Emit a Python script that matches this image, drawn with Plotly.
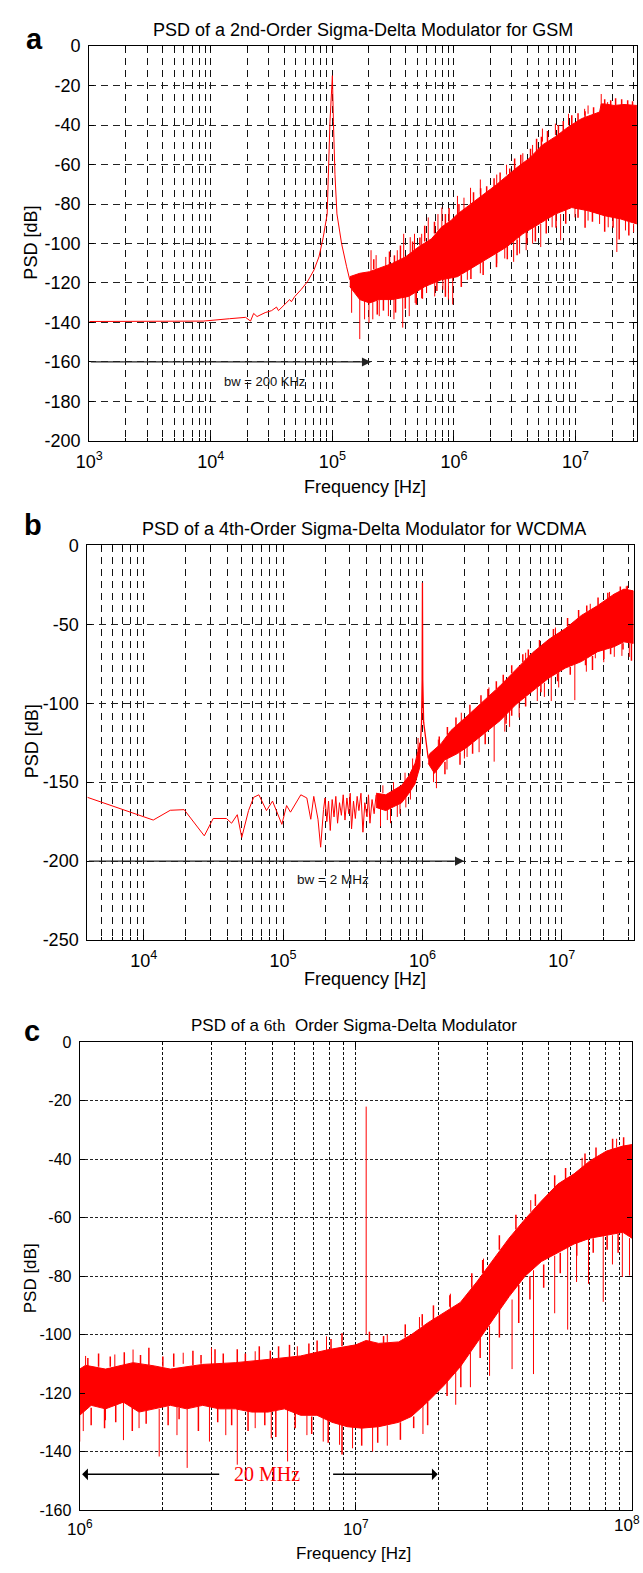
import numpy as np
import plotly.graph_objects as go

W, H = 643, 1573

# ================= Panel a : 2nd-order SDM for GSM =================
a_line_f = [1.0e3, 8.65e3, 1.42e4, 1.93e4, 2.12e4, 2.25e4, 2.4e4, 2.8e4, 3.16e4, 3.47e4, 3.6e4,
            4.05e4, 4.45e4, 4.6e4, 4.88e4, 5.52e4, 6.24e4, 7.06e4, 7.75e4, 8.4e4, 9.06e4, 9.55e4,
            1.0e5, 1.02e5, 1.05e5, 1.09e5, 1.19e5, 1.31e5, 1.39e5]
a_line_db = [-139.5, -139.3, -138.1, -137.4, -139.3, -135.4, -137.0, -135.0, -134.0, -132.2, -134.0,
             -130.9, -128.4, -129.5, -127.0, -123.4, -119.3, -113.4, -106.8, -97.0, -85.1, -38.4,
             -15.0, -38.4, -65.0, -85.0, -100.0, -111.8, -118.4]

a_hi_f = [1.39e5, 1.68e5, 2.02e5, 2.43e5, 3.11e5, 3.99e5, 5.1e5, 6.54e5, 7.87e5, 9.46e5, 1.07e6,
          1.37e6, 1.76e6, 2.25e6, 2.71e6, 3.26e6, 4.18e6, 5.35e6, 6.84e6, 8.77e6, 1.12e7, 1.44e7,
          1.58e7, 1.63e7, 1.73e7, 2.08e7, 2.51e7, 3.2e7]
a_hi_db = [-116.8, -115.1, -114.3, -112.6, -110.1, -106.8, -101.8, -97.6, -91.8, -88.4, -85.1,
           -80.1, -75.1, -70.1, -65.9, -61.8, -56.8, -50.1, -45.9, -40.9, -36.8, -34.3,
           -33.4, -29.3, -29.3, -30.1, -29.6, -30.1]
a_lo_f = [1.39e5, 1.68e5, 2.02e5, 2.43e5, 3.11e5, 4.24e5, 5.78e5, 7.87e5, 1.07e6, 1.46e6, 1.99e6,
          2.71e6, 3.69e6, 5.02e6, 6.84e6, 9.32e6, 1.27e7, 1.73e7, 2.36e7, 3.2e7]
a_lo_db = [-121.8, -128.4, -130.1, -128.4, -128.4, -126.8, -121.8, -118.4, -116.8, -111.8, -106.8,
           -101.8, -95.1, -90.1, -85.1, -81.8, -83.4, -85.9, -87.6, -90.1]

# spikes: frequency, band edge, spike tip
a_spk_f = [1.44e5, 1.68e5, 1.84e5, 2.0e5, 2.15e5, 2.43e5, 2.89e5, 3.21e5, 3.79e5, 4.29e5, 4.8e5,
           5.43e5, 5.96e5, 6.95e5, 8.11e5, 9.01e5, 9.77e5, 1.29e6, 1.65e6, 2.25e6, 2.62e6, 3.1e6,
           3.47e6, 3.93e6, 4.44e6, 5.18e6, 6.43e6, 7.55e6, 9.91e6, 1.27e7, 1.58e7, 1.86e7, 2.19e7,
           2.58e7, 3.01e7,
           2.08e5, 2.29e5, 2.75e5, 3.42e5, 3.86e5, 4.37e5, 4.74e5, 5.43e5, 6.15e5, 7.39e5, 7.96e5,
           1.07e6, 1.21e6, 1.37e6, 1.65e6, 2.25e6, 2.71e6, 3.69e6, 4.44e6, 5.35e6, 6.84e6, 8.77e6,
           1.19e7, 1.27e7, 1.63e7, 1.84e7]
a_spk_from = [-118.4, -121.8, -121.8, -121.8, -121.8, -121.8, -125.1, -123.4, -123.4, -121.8, -121.8,
              -118.4, -118.4, -115.1, -115.1, -115.1, -113.4, -111.8, -106.8, -101.8, -100.1, -96.8,
              -95.1, -93.4, -91.8, -90.1, -85.1, -85.1, -81.8, -83.4, -85.1, -85.9, -86.8,
              -88.4, -90.1,
              -115.1, -115.1, -113.4, -113.4, -108.4, -105.1, -103.4, -101.8, -98.4, -93.4, -91.8,
              -85.1, -83.4, -80.1, -75.1, -70.1, -65.1, -60.1, -55.1, -48.4, -45.1, -40.1,
              -35.1, -34.3, -31.8, -31.8]
a_spk_to = [-135.1, -148.4, -138.4, -140.1, -138.4, -136.8, -136.8, -138.4, -142.6, -136.8, -130.1,
            -127.6, -125.1, -126.8, -123.4, -128.4, -130.9, -118.4, -115.1, -110.1, -107.6, -109.3,
            -105.1, -103.4, -100.1, -101.8, -91.8, -98.4, -86.8, -88.4, -90.1, -91.8, -104.3,
            -93.4, -94.3,
            -103.4, -105.9, -106.8, -103.4, -95.1, -96.8, -95.1, -95.1, -86.8, -85.1, -81.8,
            -75.9, -76.8, -71.8, -67.6, -65.1, -60.1, -54.3, -50.1, -41.8, -39.3, -34.3,
            -31.8, -30.1, -24.3, -28.4]
# shorter edge spikes (jagged band edges)
a_edge_f = [2.19e5, 2.95e5, 3.24e5, 3.63e5, 4.57e5, 5.25e5, 5.75e5, 6.92e5, 8.51e5, 9.12e5, 1.1e6,
            1.45e6, 1.66e6, 1.86e6, 2.14e6, 2.4e6, 2.88e6, 3.16e6, 3.55e6, 4.27e6, 4.79e6, 5.25e6,
            5.89e6, 7.24e6, 7.94e6, 9.33e6, 1.05e7, 1.2e7, 1.41e7, 1.74e7, 1.95e7, 2.14e7, 2.4e7,
            2.69e7, 2.95e7,
            2.34e5, 2.63e5, 3.31e5, 3.98e5, 4.9e5, 5.5e5, 7.24e5, 8.51e5, 1.15e6, 1.38e6, 1.74e6,
            2.24e6, 2.75e6, 3.31e6, 3.98e6, 4.68e6, 5.75e6, 6.92e6, 8.32e6, 1.05e7, 1.2e7, 1.38e7,
            1.74e7, 2.04e7, 2.29e7, 2.75e7]
a_edge_from = [-113.0, -111.0, -110.0, -108.0, -104.0, -101.0, -99.0, -95.0, -91.0, -89.0, -86.0,
               -81.0, -78.0, -76.0, -73.0, -71.0, -67.0, -64.0, -61.0, -57.0, -54.0, -52.0,
               -49.0, -45.0, -44.0, -40.0, -39.0, -36.0, -34.5, -30.0, -30.0, -30.0, -30.0,
               -30.0, -30.0,
               -129.0, -128.0, -128.0, -127.0, -124.0, -122.0, -118.0, -118.0, -116.0, -112.0, -109.0,
               -105.0, -101.0, -98.0, -94.0, -91.0, -87.0, -85.0, -82.5, -82.0, -83.0, -84.0,
               -85.5, -86.5, -87.0, -89.0]
a_edge_to = [-108.0, -104.0, -106.0, -101.0, -99.0, -97.0, -91.0, -89.0, -85.0, -82.0, -80.0,
             -74.0, -72.0, -71.0, -67.0, -64.0, -62.0, -57.0, -55.0, -52.0, -47.0, -46.0,
             -43.0, -40.0, -38.0, -35.0, -34.0, -33.0, -31.0, -27.0, -27.5, -26.5, -27.0,
             -27.5, -28.0,
             -136.0, -134.0, -135.0, -133.0, -131.0, -128.0, -124.0, -127.0, -122.0, -118.0, -116.0,
             -112.0, -108.0, -106.0, -100.0, -99.0, -95.0, -92.0, -90.0, -87.0, -92.0, -89.0,
             -94.0, -92.0, -98.0, -96.0]

a_bw_tail_f, a_bw_tip_f, a_bw_db = 1.0e3, 2.08e5, -160.0
a_bw_text = "bw = 200 KHz"
a_bw_text_f, a_bw_text_db = 2.76e4, -169.8
a_yticks = list(range(-200, 1, 20))
a_xticks = [1e3, 1e4, 1e5, 1e6, 1e7]

# ================= Panel b : 4th-order SDM for WCDMA =================
b_line_f = [3.94e3, 1.17e4, 1.55e4, 1.95e4, 2.72e4, 3.15e4, 3.92e4, 4.27e4, 4.69e4, 5.05e4, 5.65e4,
            6.15e4, 6.7e4, 7.6e4, 8.4e4, 8.98e4, 9.8e4, 1.06e5, 1.13e5, 1.34e5, 1.48e5, 1.58e5,
            1.66e5, 1.78e5, 1.86e5, 1.95e5, 2.0e5, 2.06e5, 2.12e5, 2.18e5, 2.25e5, 2.32e5, 2.39e5,
            2.46e5, 2.54e5, 2.62e5, 2.7e5, 2.78e5, 2.87e5, 2.96e5, 3.03e5, 3.1e5, 3.2e5, 3.3e5,
            3.4e5, 3.5e5, 3.62e5, 3.74e5, 3.86e5, 4.0e5, 4.1e5, 4.2e5, 4.35e5, 4.5e5, 4.65e5]
b_line_db = [-159.6, -174.0, -167.8, -167.4, -184.0, -173.0, -173.0, -176.0, -170.6, -185.0, -168.0,
             -159.6, -158.0, -168.0, -162.0, -168.6, -176.7, -164.8, -169.0, -158.0, -160.0, -173.5,
             -159.0, -173.5, -191.2, -167.4, -160.0, -175.0, -162.0, -180.6, -161.0, -172.0, -159.0,
             -176.0, -163.0, -171.0, -158.0, -174.0, -160.0, -170.0, -157.0, -179.6, -162.0, -173.0,
             -159.0, -168.0, -157.0, -181.7, -163.0, -172.0, -158.0, -176.0, -161.0, -170.0, -158.0]

b_hi1_f = [4.65e5, 5.46e5, 7.1e5, 8.0e5, 8.85e5, 9.6e5]
b_hi1_db = [-157.0, -158.0, -152.0, -146.0, -138.0, -125.0]
b_lo1_f = [4.65e5, 5.46e5, 7.1e5, 8.0e5, 8.85e5, 9.6e5]
b_lo1_db = [-166.0, -168.0, -163.0, -157.0, -151.0, -140.0]

b_pk_f = [9.6e5, 9.85e5, 9.95e5, 1.0e6, 1.005e6, 1.02e6, 1.05e6, 1.1e6]
b_pk_db = [-132.0, -112.0, -85.0, -23.6, -85.0, -112.0, -122.0, -135.0]

b_hi2_f = [1.1e6, 1.13e6, 1.36e6, 1.6e6, 2.1e6, 2.75e6, 3.6e6, 4.71e6, 6.17e6, 8.08e6, 1.06e7,
           1.38e7, 1.81e7, 2.37e7, 2.79e7, 3.27e7]
b_hi2_db = [-134.0, -131.9, -125.6, -117.3, -108.0, -98.6, -89.0, -78.5, -68.0, -59.5, -52.7,
            -44.4, -38.1, -30.9, -27.7, -28.8]
b_lo2_f = [1.1e6, 1.22e6, 1.44e6, 1.78e6, 2.1e6, 2.75e6, 3.6e6, 4.71e6, 6.17e6, 8.08e6, 1.06e7,
           1.38e7, 1.81e7, 2.37e7, 2.79e7, 3.27e7]
b_lo2_db = [-138.1, -144.4, -136.0, -131.9, -127.7, -119.4, -111.1, -100.6, -92.3, -84.0, -77.7,
            -73.6, -67.3, -64.2, -61.1, -62.1]

b_spk_f = [5.0e5, 5.9e5, 6.6e5, 7.6e5, 1.2e6, 1.26e6, 1.5e6, 2.0e6, 2.09e6, 2.55e6, 3.27e6,
           3.9e6, 4.22e6, 4.94e6, 6.67e6, 7.5e6, 8.4e6, 9.5e6, 1.24e7, 1.5e7, 1.74e7, 2.0e7,
           2.38e7, 2.7e7, 3.05e7,
           1.3e6, 1.9e6, 3.0e6, 5.5e6, 9.0e6, 1.6e7, 2.2e7, 2.9e7,
           5.2e5, 6.2e5, 7.5e5, 8.5e5, 9.3e5, 5.6e5, 6.9e5, 8.2e5]
b_spk_from = [-166.0, -166.0, -163.0, -159.0, -140.0, -141.0, -134.0, -128.0, -127.0, -121.0, -113.0,
              -108.0, -104.0, -99.0, -90.0, -87.0, -83.0, -80.0, -75.0, -72.0, -68.0, -66.0,
              -64.0, -62.0, -62.0,
              -128.0, -112.0, -95.0, -73.0, -56.0, -41.0, -33.0, -28.0,
              -157.0, -155.0, -150.0, -142.0, -130.0, -167.0, -163.0, -155.0]
b_spk_to = [-178.0, -176.0, -172.0, -166.0, -150.0, -153.8, -142.0, -135.0, -134.0, -131.0, -137.0,
            -118.0, -115.0, -109.0, -98.6, -96.0, -98.6, -90.0, -98.0, -80.0, -71.5, -74.0,
            -70.6, -70.0, -70.6,
            -123.0, -106.0, -90.0, -68.0, -52.0, -37.0, -29.5, -26.0,
            -152.0, -150.0, -144.0, -135.0, -122.0, -174.0, -170.0, -161.0]
b_edge_f = [1.32e6, 1.51e6, 1.74e6, 2.19e6, 2.63e6, 2.95e6, 3.39e6, 3.8e6, 4.37e6, 5.25e6, 5.75e6,
            6.92e6, 8.71e6, 1.1e7, 1.32e7, 1.51e7, 1.82e7, 2.14e7, 2.63e7, 2.95e7,
            1.45e6, 1.86e6, 2.29e6, 2.82e6, 3.98e6, 4.37e6, 5.5e6, 7.08e6, 9.33e6, 1.15e7, 1.48e7,
            1.66e7, 2.0e7, 2.24e7, 2.75e7, 3.16e7]
b_edge_from = [-127.0, -120.0, -115.0, -107.0, -100.0, -96.0, -91.0, -87.0, -81.0, -74.0, -71.0,
               -64.5, -58.0, -51.0, -46.0, -42.0, -38.0, -34.0, -29.5, -28.5,
               -137.0, -131.0, -125.0, -119.0, -106.0, -103.0, -96.0, -88.0, -81.0, -77.0, -72.0,
               -70.0, -66.3, -65.0, -62.0, -62.0]
b_edge_to = [-121.0, -115.0, -109.0, -101.0, -95.0, -91.0, -86.0, -82.0, -76.0, -69.0, -66.0,
             -60.0, -53.0, -46.0, -41.0, -38.0, -33.0, -30.0, -26.0, -25.5,
             -145.0, -139.0, -132.0, -126.0, -113.0, -108.0, -102.0, -93.0, -86.0, -82.0, -76.0,
             -79.0, -72.0, -69.0, -66.0, -73.0]

b_bw_tail_f, b_bw_tip_f, b_bw_db = 3.94e3, 1.99e6, -200.0
b_bw_text = "bw = 2 MHz"
b_bw_text_f, b_bw_text_db = 2.27e5, -211.5
b_yticks = list(range(-250, 1, 50))
b_xticks = [1e4, 1e5, 1e6, 1e7]

# ================= Panel c : 6th-order SDM =================
c_hi_f = [1.0e6, 1.05e6, 1.24e6, 1.56e6, 1.86e6, 2.13e6, 2.79e6, 3.66e6, 4.81e6, 6.31e6, 8.0e6,
          9.23e6, 1.0e7, 1.09e7, 1.21e7, 1.43e7, 1.59e7, 1.82e7, 2.08e7, 2.39e7, 2.74e7, 3.13e7,
          3.59e7, 4.1e7, 4.7e7, 5.39e7, 6.17e7, 7.06e7, 8.09e7, 9.27e7, 1.0e8]
c_hi_db = [-111.8, -110.5, -111.8, -109.6, -110.7, -111.8, -110.2, -109.6, -108.5, -107.3, -105.1,
           -104.0, -103.5, -102.0, -103.0, -102.5, -100.0, -96.0, -92.5, -89.0, -82.0, -74.5,
           -67.0, -60.5, -54.3, -48.5, -45.0, -40.5, -37.2, -35.5, -35.0]
c_lo_f = [1.0e6, 1.1e6, 1.24e6, 1.44e6, 1.64e6, 1.86e6, 2.13e6, 2.44e6, 2.79e6, 3.2e6, 3.66e6,
          4.2e6, 4.81e6, 5.51e6, 6.31e6, 7.23e6, 8.2e6, 9.3e6, 1.05e7, 1.21e7, 1.43e7, 1.59e7,
          1.82e7, 2.08e7, 2.39e7, 2.74e7, 3.13e7, 3.59e7, 4.1e7, 4.7e7, 5.39e7, 6.17e7, 7.06e7,
          8.09e7, 9.27e7, 1.0e8]
c_lo_db = [-127.6, -124.2, -125.4, -123.1, -126.5, -125.4, -124.2, -125.4, -124.2, -125.4, -125.4,
           -126.5, -126.5, -125.4, -127.6, -127.6, -130.0, -131.5, -132.0, -131.5, -130.0, -128.0,
           -123.0, -117.5, -111.0, -103.0, -95.0, -87.0, -80.0, -75.0, -72.0, -69.0, -67.0,
           -66.0, -65.0, -67.0]

c_spk_f = [1.0e6, 1.03e6, 1.24e6, 1.44e6, 1.64e6, 1.94e6, 2.25e6, 2.45e6, 2.95e6, 3.38e6, 3.72e6,
           4.32e6, 4.94e6, 5.66e6, 6.65e6, 7.62e6, 8.73e6, 9.73e6, 1.15e7, 1.3e7, 1.75e7, 2.3e7,
           2.6e7, 3.05e7, 3.68e7, 4.4e7, 5.25e7, 5.85e7, 6.3e7, 6.96e7, 7.87e7, 8.5e7, 9.23e7, 9.8e7,
           1.05e6, 1.34e6, 1.56e6, 2.37e6, 3.0e6, 4.32e6, 6.14e6, 7.83e6, 1.3e7, 1.7e7, 2.2e7,
           2.9e7, 4.3e7, 6.6e7, 8.8e7]
c_spk_from = [-127.6, -125.0, -125.0, -123.0, -126.5, -125.4, -124.2, -125.4, -124.2, -125.4, -125.4,
              -126.5, -126.5, -125.4, -127.6, -127.6, -130.0, -131.5, -131.5, -131.0, -124.0, -112.0,
              -106.0, -97.0, -88.0, -78.0, -73.0, -70.0, -69.0, -67.0, -66.0, -66.0, -65.0, -67.0,
              -110.5, -111.0, -109.6, -110.0, -110.0, -109.0, -107.5, -105.5, -102.7, -98.0, -91.0,
              -79.0, -58.0, -43.0, -36.0]
c_spk_to = [-136.6, -133.0, -129.3, -136.1, -132.0, -141.7, -134.4, -145.6, -136.6, -134.4, -144.5,
            -132.0, -135.5, -143.4, -134.4, -136.6, -137.7, -138.9, -140.0, -138.0, -134.0, -124.0,
            -118.0, -114.1, -111.8, -113.5, -92.7, -98.3, -82.0, -82.6, -88.8, -76.0, -80.3, -79.8,
            -107.3, -106.8, -105.1, -106.2, -104.5, -105.7, -104.0, -100.6, -100.0, -94.0, -86.0,
            -74.0, -54.0, -39.5, -33.0]
c_edge_f = [1.07e6, 1.17e6, 1.29e6, 1.45e6, 1.66e6, 1.78e6, 2.0e6, 2.19e6, 2.57e6, 2.75e6, 3.09e6,
            3.31e6, 3.72e6, 3.98e6, 4.47e6, 4.9e6, 5.25e6, 5.75e6, 6.76e6, 7.24e6, 8.13e6, 8.91e6,
            1.12e7, 1.26e7, 1.51e7, 1.74e7, 1.91e7, 2.19e7, 2.63e7, 2.88e7, 3.31e7, 3.8e7, 4.47e7,
            5.25e7, 5.75e7, 6.76e7, 7.41e7, 8.51e7, 9.33e7,
            1.1e6, 1.23e6, 1.35e6, 1.55e6, 1.74e6, 2.09e6, 2.29e6, 2.69e6, 3.16e6, 3.55e6, 4.07e6,
            4.68e6, 5.13e6, 6.03e6, 6.92e6, 7.94e6, 8.91e6, 1.05e7, 1.2e7, 1.45e7, 1.62e7, 1.82e7,
            2.14e7, 2.4e7, 2.82e7, 3.31e7, 3.89e7, 4.27e7, 4.79e7, 5.5e7, 6.31e7, 7.24e7, 8.13e7,
            8.91e7]
c_edge_from = [-111.0, -111.0, -111.0, -110.5, -110.5, -110.5, -111.0, -111.0, -110.5, -110.0, -110.0,
               -110.0, -109.5, -109.5, -109.0, -108.5, -108.0, -108.0, -107.0, -106.5, -105.0, -104.0,
               -102.5, -103.0, -101.0, -97.0, -95.0, -90.5, -84.0, -79.0, -71.0, -64.0, -56.0,
               -50.0, -47.0, -42.0, -39.5, -36.5, -35.5,
               -125.0, -125.0, -124.0, -125.0, -126.0, -124.5, -125.0, -124.5, -125.0, -125.5, -126.0,
               -126.5, -126.0, -126.0, -128.0, -129.0, -130.5, -132.0, -131.5, -130.0, -128.0, -123.0,
               -115.0, -110.0, -100.0, -91.0, -83.0, -80.0, -76.0, -72.0, -68.5, -67.0, -66.0,
               -65.5]
c_edge_to = [-108.0, -106.5, -107.5, -106.0, -107.0, -104.5, -107.5, -106.5, -105.5, -107.0, -105.0,
             -106.5, -105.0, -106.5, -104.0, -105.5, -104.0, -103.5, -103.0, -102.0, -101.5, -99.5,
             -99.0, -100.5, -96.5, -93.0, -90.0, -86.5, -79.0, -74.5, -66.0, -59.0, -52.0,
             -45.5, -43.0, -38.0, -36.0, -33.0, -32.5,
             -131.0, -132.0, -130.0, -133.0, -130.5, -131.0, -129.0, -133.0, -130.0, -131.0, -133.0,
             -131.0, -135.0, -132.0, -134.0, -137.0, -141.0, -138.0, -137.0, -136.0, -132.0, -131.0,
             -121.0, -118.0, -108.0, -101.0, -96.0, -88.0, -84.0, -79.0, -73.0, -72.0, -71.0,
             -72.0]

c_tone_f, c_tone_base, c_tone_top = 1.09e7, -100.0, -22.0
c_bw_left_tip_f, c_bw_left_tail_f = 1.02e6, 3.24e6
c_bw_right_tail_f, c_bw_right_tip_f = 8.17e6, 1.98e7
c_bw_db = -147.8
c_bw_text = "20 MHz"
c_bw_text_f = 4.75e6
c_yticks = list(range(-160, 1, 20))
c_xticks = [1e6, 1e7, 1e8]

# ================= helpers =================
RED = "#ff0000"
SANS = "Liberation Sans, Arial, Helvetica, sans-serif"
SERIF = "Liberation Serif, Times New Roman, serif"


def spikes(f, y0, y1):
    xs, ys = [], []
    for fi, a, b in zip(f, y0, y1):
        xs += [fi, fi, None]
        ys += [a, b, None]
    return xs, ys


def band(hf, hy, lf, ly):
    return list(hf) + list(lf)[::-1], list(hy) + list(ly)[::-1]


def minor_vals(lo, hi):
    out = []
    for e in range(int(np.floor(lo)), int(np.ceil(hi)) + 1):
        for m in range(2, 10):
            v = m * 10.0 ** e
            if lo < np.log10(v) < hi:
                out.append(v)
    return out


def xdom(l, r):
    return [l / W, r / W]


def ydom(t, b):
    return [1 - b / H, 1 - t / H]


fig = go.Figure()


def add_band(hf, hy, lf, ly, xa, ya):
    bx, by = band(hf, hy, lf, ly)
    fig.add_trace(go.Scatter(x=bx, y=by, mode="lines", fill="toself", fillcolor=RED,
                             line=dict(color=RED, width=1), xaxis=xa, yaxis=ya,
                             hoverinfo="skip", showlegend=False))


def add_line(f, db, xa, ya, w=1.0):
    fig.add_trace(go.Scatter(x=f, y=db, mode="lines", line=dict(color=RED, width=w),
                             xaxis=xa, yaxis=ya, showlegend=False))


def add_spikes(f, y0, y1, xa, ya, w=1.0):
    sx, sy = spikes(f, y0, y1)
    fig.add_trace(go.Scatter(x=sx, y=sy, mode="lines", line=dict(color=RED, width=w),
                             xaxis=xa, yaxis=ya, hoverinfo="skip", showlegend=False,
                             connectgaps=False))


# panel a traces
add_line(a_line_f, a_line_db, "x", "y")
add_band(a_hi_f, a_hi_db, a_lo_f, a_lo_db, "x", "y")
add_spikes(a_spk_f, a_spk_from, a_spk_to, "x", "y")
add_spikes(a_edge_f, a_edge_from, a_edge_to, "x", "y", w=1.5)
# panel b traces
add_line(b_line_f, b_line_db, "x2", "y2")
add_band(b_hi1_f, b_hi1_db, b_lo1_f, b_lo1_db, "x2", "y2")
add_line(b_pk_f, b_pk_db, "x2", "y2", w=1.3)
add_band(b_hi2_f, b_hi2_db, b_lo2_f, b_lo2_db, "x2", "y2")
add_spikes(b_spk_f, b_spk_from, b_spk_to, "x2", "y2")
add_spikes(b_edge_f, b_edge_from, b_edge_to, "x2", "y2", w=1.5)
# panel c traces
add_band(c_hi_f, c_hi_db, c_lo_f, c_lo_db, "x3", "y3")
add_spikes(c_spk_f, c_spk_from, c_spk_to, "x3", "y3")
add_spikes(c_edge_f, c_edge_from, c_edge_to, "x3", "y3", w=1.5)
add_spikes([c_tone_f], [c_tone_base], [c_tone_top], "x3", "y3")

# ---------------- axes ----------------
PA = (77.0, 636.7, 36.5, 436.5)
PB = (75.0, 633.3, 542.3, 942.0)
PC = (67.2, 631.7, 1045.6, 1519.3)


def xax(rng, box, ticks, dash, gw, fsize, anchor, standoff):
    return dict(type="log", range=rng, domain=xdom(box[0], box[1]), anchor=anchor,
                tickmode="array", tickvals=ticks,
                ticktext=["10<sup>%d</sup>" % round(np.log10(t)) for t in ticks],
                showgrid=True, gridcolor="#111", griddash=dash, gridwidth=gw,
                minor=dict(tickmode="array", tickvals=minor_vals(rng[0], rng[1]), showgrid=True,
                           gridcolor="#111", griddash=dash, gridwidth=gw, ticks="inside",
                           ticklen=3, tickcolor="black"),
                showline=True, linecolor="black", linewidth=1.2, mirror="ticks",
                ticks="inside", ticklen=5, tickcolor="black", zeroline=False,
                tickfont=dict(family=SANS, size=fsize, color="black"),
                ticklabelstandoff=standoff)


def yax(rng, box, ticks, dash, gw, fsize, anchor):
    return dict(range=rng, domain=ydom(box[2], box[3]), anchor=anchor,
                tickmode="array", tickvals=ticks, ticktext=[str(t) for t in ticks],
                showgrid=True, gridcolor="#222", griddash=dash, gridwidth=gw,
                showline=True, linecolor="black", linewidth=1.2, mirror="ticks",
                ticks="inside", ticklen=5, tickcolor="black", zeroline=False,
                tickfont=dict(family=SANS, size=fsize, color="black"),
                ticklabelstandoff=4)


DASH_AB = "7px,5px"
DASH_C = "3px,2px"

fig.update_layout(
    width=W, height=H, margin=dict(l=0, r=0, t=0, b=0),
    paper_bgcolor="white", plot_bgcolor="white", showlegend=False,
    font=dict(family=SANS, color="black"),
    xaxis=xax([3, np.log10(3.2e7)], PA, a_xticks, DASH_AB, 1, 18, "y", 4),
    yaxis=yax([-200, 0], PA, a_yticks, DASH_AB, 1, 18, "x"),
    xaxis2=xax([np.log10(3.94e3), np.log10(3.27e7)], PB, b_xticks, DASH_AB, 1, 18, "y2", 4),
    yaxis2=yax([-250, 0], PB, b_yticks, DASH_AB, 1, 18, "x2"),
    xaxis3=xax([6, 8], PC, c_xticks, DASH_C, 1.3, 17, "y3", 4),
    yaxis3=yax([-160, 0], PC, c_yticks, DASH_C, 1.3, 16, "x3"),
)


def ptext(px, py, text, size, family=SANS, bold=False, color="black", angle=0, xanchor="center"):
    fig.add_annotation(xref="paper", yref="paper", x=px / W, y=1 - py / H, text=text,
                       showarrow=False, xanchor=xanchor, yanchor="middle", textangle=angle,
                       font=dict(family=family, size=size, color=color,
                                 weight="bold" if bold else "normal"))


# titles and labels
ptext(357, 20.5, "PSD of a 2nd-Order Sigma-Delta Modulator for GSM", 18)
ptext(21, 29, "a", 29, bold=True)
ptext(17, 236, "PSD [dB]", 18, angle=-90)
ptext(359, 483, "Frequency [Hz]", 18)

ptext(358, 526, "PSD of a 4th-Order Sigma-Delta Modulator for WCDMA", 18)
ptext(19.5, 522, "b", 29, bold=True)
ptext(18, 741, "PSD [dB]", 18, angle=-90)
ptext(359, 981.7, "Frequency [Hz]", 18)

ptext(348, 1029, "PSD of a <span style='font-family:Liberation Serif'>6th</span>&nbsp; Order Sigma-Delta Modulator", 17)
ptext(18, 1034, "c", 29, bold=True)
ptext(17, 1285, "PSD [dB]", 17, angle=-90)
ptext(347, 1563, "Frequency [Hz]", 17)
# last decade label of panel c sits on the page edge: keep it inside the page
ptext(642, 1533, "10<sup>8</sup>", 17, xanchor="right")


def arrow(xa, ya, tip_f, tail_f, yv, color="#222", head=2, size=1.4, width=1.3):
    fig.add_annotation(xref=xa, yref=ya, axref=xa, ayref=ya, x=np.log10(tip_f), y=yv,
                       ax=np.log10(tail_f), ay=yv, text="", showarrow=True, arrowhead=head,
                       arrowsize=size, arrowwidth=width, arrowcolor=color, standoff=0,
                       startstandoff=0)


def dtext(xa, ya, f, yv, text, size, family=SANS, color="#111"):
    fig.add_annotation(xref=xa, yref=ya, x=np.log10(f), y=yv, text=text, showarrow=False,
                       xanchor="center", yanchor="middle",
                       font=dict(family=family, size=size, color=color))


arrow("x", "y", a_bw_tip_f, a_bw_tail_f, a_bw_db)
dtext("x", "y", a_bw_text_f, a_bw_text_db, a_bw_text, 13)
arrow("x2", "y2", b_bw_tip_f, b_bw_tail_f, b_bw_db)
dtext("x2", "y2", b_bw_text_f, b_bw_text_db, b_bw_text, 13.5)
arrow("x3", "y3", c_bw_left_tip_f, c_bw_left_tail_f, c_bw_db, color="black", head=1, size=1.3, width=1.5)
arrow("x3", "y3", c_bw_right_tip_f, c_bw_right_tail_f, c_bw_db, color="black", head=1, size=1.3, width=1.5)
dtext("x3", "y3", c_bw_text_f, c_bw_db, c_bw_text, 20, family=SERIF, color=RED)

fig.write_html("out.html")
